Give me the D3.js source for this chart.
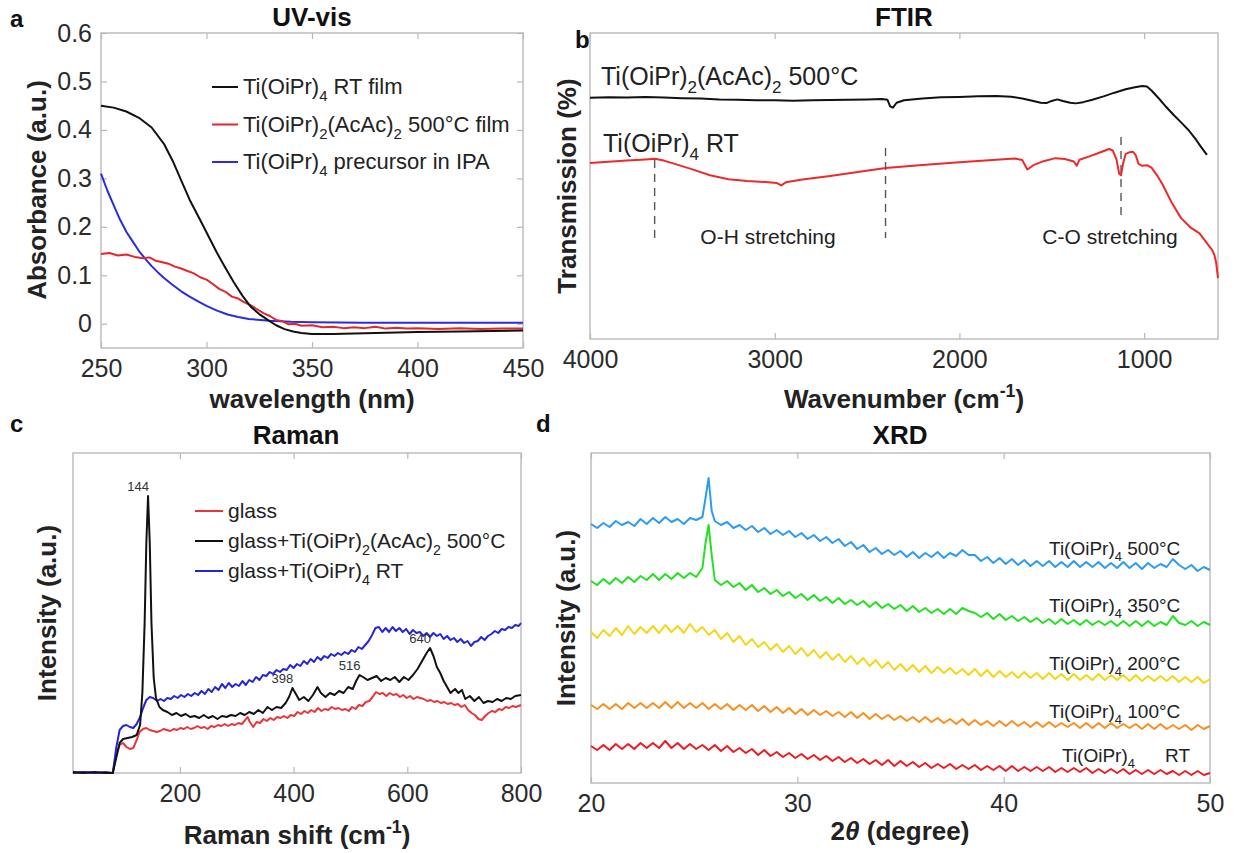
<!DOCTYPE html>
<html>
<head>
<meta charset="utf-8">
<script src="https://cdn.jsdelivr.net/npm/d3@7"></script>
<style>
  body { margin: 0; background: #fff; }
  svg { display: block; }
  text { font-family: "Liberation Sans", Arial, Helvetica, sans-serif; }
</style>
</head>
<body>
<svg id="fig" width="1240" height="853"></svg>
<script>
// ---------- (a) UV-vis absorbance, [wavelength nm, absorbance] ----------
const uvRTFilm = [[250,.450],[256,.446],[262,.438],[268,.425],[274,.405],[280,.370],[284,.336],[288,.296],[292,.256],[297,.214],[301,.180],[305,.146],[309,.115],[313,.085],[317,.058],[321,.035],[325,.020],[329,.008],[333,-.003],[337,-.011],[341,-.016],[345,-.019],[350,-.021],[355,-.021],[360,-.021],[370,-.020],[380,-.019],[390,-.018],[400,-.017],[420,-.016],[450,-.014]];
const uvAcAcFilm = [[250,.144],[254,.146],[258,.141],[262,.143],[266,.138],[270,.135],[273,.137],[276,.130],[279,.127],[282,.124],[285,.118],[288,.114],[291,.109],[294,.104],[297,.096],[300,.091],[303,.082],[306,.072],[309,.066],[312,.056],[315,.052],[318,.044],[321,.038],[324,.030],[327,.022],[330,.016],[333,.008],[336,.005],[339,-.001],[342,.000],[345,-.004],[350,-.003],[355,-.007],[360,-.006],[365,-.009],[370,-.007],[375,-.009],[380,-.006],[385,-.010],[390,-.008],[395,-.010],[400,-.009],[410,-.011],[420,-.009],[430,-.011],[440,-.010],[450,-.010]];
const uvPrecursorIPA = [[250,.310],[253,.275],[256,.245],[259,.215],[262,.190],[265,.170],[268,.150],[271,.134],[274,.119],[277,.106],[280,.094],[284,.080],[288,.067],[292,.056],[296,.046],[300,.037],[305,.027],[310,.019],[315,.014],[320,.010],[330,.006],[340,.004],[350,.003],[375,.002],[400,.002],[450,.002]];
const uvTicksX = [250,300,350,400,450];
const uvTicksY = [0,0.1,0.2,0.3,0.4,0.5,0.6];

// ---------- (b) FTIR transmission, [wavenumber cm-1, transmission a.u.] ----------
const ftirAcAc500 = [[4000,78.8],[3900,79.0],[3800,78.9],[3700,79.1],[3600,78.9],[3500,78.7],[3400,78.6],[3300,78.3],[3200,78.2],[3100,78.0],[3000,78.0],[2900,77.9],[2800,78.0],[2700,78.1],[2600,78.2],[2500,78.3],[2420,78.4],[2390,78.2],[2375,76.0],[2360,75.6],[2340,77.2],[2300,78.0],[2200,78.6],[2100,79.0],[2000,79.1],[1900,79.3],[1800,79.4],[1720,79.2],[1660,78.6],[1600,77.8],[1560,77.2],[1530,77.1],[1500,77.8],[1470,78.3],[1440,77.8],[1400,77.2],[1370,77.0],[1330,77.4],[1280,78.2],[1220,79.3],[1160,80.5],[1100,81.6],[1050,82.3],[1010,82.7],[985,82.5],[960,81.2],[920,78.6],[880,75.8],[840,73.2],[800,70.8],[760,68.3],[720,65.2],[690,62.6],[660,60.2]];
const ftirRT = [[4000,57.5],[3900,57.9],[3800,58.3],[3700,58.7],[3650,58.9],[3600,58.3],[3550,57.4],[3450,55.5],[3350,53.5],[3250,52.2],[3150,51.6],[3050,51.3],[2990,51.0],[2965,50.2],[2940,51.2],[2850,52.1],[2700,53.3],[2550,54.6],[2400,55.9],[2200,56.9],[2000,57.8],[1800,58.6],[1700,59.0],[1660,58.5],[1632,55.4],[1600,56.8],[1540,58.2],[1480,59.1],[1430,58.8],[1380,58.0],[1365,56.6],[1350,58.6],[1300,59.6],[1250,60.7],[1190,62.1],[1170,61.6],[1150,58.8],[1135,54.0],[1125,53.5],[1115,57.0],[1100,60.5],[1080,61.0],[1060,61.2],[1045,60.0],[1030,57.2],[1010,56.6],[985,56.8],[960,56.0],[930,53.5],[900,50.5],[850,44.5],[800,39.5],[750,36.5],[700,34.5],[650,30.5],[632,29.1],[620,27.5],[610,25.0],[600,19.9]];
const ftirTicksX = [4000,3000,2000,1000];
// dashed band markers: [wavenumber, top, bottom] in transmission units
const ftirMarkers = [[3650,58.5,32.4],[2400,62.4,33.0],[1125,66.0,39.5]];

// ---------- (c) Raman spectra, [shift cm-1, intensity a.u.] ----------
const ramanGlass = [[12,0],[30,1],[50,0],[70,0],[82,0],[88,18],[94,28],[100,30],[106,26],[112,24],[118,25],[124,33],[129,41],[135,44],[141,45],[147,43],[153,42],[159,41],[165,42],[171,44],[177,43],[183,42],[189,44],[195,43],[201,45],[207,44],[213,46],[219,44],[225,45],[231,47],[237,45],[243,46],[249,44],[255,47],[261,46],[267,48],[273,47],[279,49],[285,47],[291,49],[297,48],[303,50],[309,49],[315,53],[319,56],[323,51],[329,46],[335,51],[341,50],[347,54],[353,52],[359,55],[365,53],[371,56],[377,55],[383,57],[389,55],[395,58],[401,57],[407,61],[413,59],[419,62],[425,60],[431,63],[437,61],[443,65],[449,62],[455,64],[461,63],[467,66],[473,64],[479,65],[485,63],[491,64],[497,62],[503,66],[509,64],[515,68],[521,67],[527,71],[533,72],[539,76],[545,81],[551,79],[557,80],[563,77],[569,80],[575,78],[581,79],[587,76],[593,78],[599,75],[605,77],[611,74],[617,76],[623,75],[629,74],[635,72],[641,73],[647,71],[653,72],[659,70],[665,71],[671,69],[677,70],[683,68],[689,69],[695,66],[701,68],[707,63],[713,60],[719,58],[725,54],[731,53],[737,57],[743,60],[749,62],[755,61],[761,64],[767,63],[773,66],[779,65],[785,67],[791,66],[800,68]];
const ramanAcAc500 = [[12,1],[30,0],[50,1],[70,0],[82,0],[88,15],[94,30],[100,34],[108,35],[116,36],[124,38],[130,48],[134,80],[138,150],[141,230],[144,277],[147,230],[150,150],[154,95],[158,75],[164,66],[170,63],[178,61],[186,58],[194,60],[202,57],[210,59],[218,56],[226,57],[234,55],[242,58],[250,55],[258,57],[266,54],[274,57],[282,56],[290,58],[298,57],[306,60],[314,58],[322,61],[330,59],[338,63],[346,60],[354,66],[362,63],[370,66],[378,65],[386,70],[392,76],[398,85],[404,79],[410,73],[418,76],[426,72],[434,78],[442,86],[448,80],[456,76],[464,80],[472,78],[480,82],[488,80],[496,86],[504,84],[510,92],[516,98],[522,96],[530,93],[538,95],[546,97],[554,92],[562,95],[570,93],[578,96],[586,91],[594,96],[602,93],[610,98],[618,104],[626,112],[634,120],[640,125],[646,117],[652,106],[658,100],[664,92],[670,86],[676,80],[684,84],[690,80],[696,83],[702,74],[710,77],[718,72],[726,76],[734,70],[742,72],[750,71],[758,74],[766,72],[774,75],[782,74],[790,77],[800,78]];
const ramanRT = [[12,0],[30,1],[50,0],[70,1],[82,0],[88,25],[94,43],[100,47],[106,48],[112,46],[118,45],[124,49],[130,56],[136,66],[141,73],[147,76],[153,75],[160,72],[166,74],[172,72],[178,75],[184,74],[190,77],[196,75],[202,78],[208,76],[214,79],[220,77],[226,80],[232,78],[238,82],[244,79],[250,84],[256,81],[262,86],[268,83],[274,89],[280,85],[286,90],[292,86],[298,89],[304,87],[310,92],[316,88],[322,93],[328,91],[334,96],[340,93],[346,98],[352,97],[358,101],[364,99],[370,103],[376,101],[382,104],[388,103],[394,108],[400,105],[406,109],[412,107],[418,112],[424,109],[430,114],[436,111],[442,116],[448,113],[454,117],[460,115],[466,119],[472,117],[478,120],[484,118],[490,121],[496,119],[502,123],[508,121],[514,126],[520,124],[526,128],[532,132],[538,138],[544,145],[550,146],[556,141],[562,145],[568,141],[574,146],[580,142],[586,145],[592,141],[598,144],[604,139],[610,143],[616,140],[622,141],[628,137],[634,140],[640,136],[646,140],[652,137],[658,139],[664,134],[670,137],[676,133],[682,135],[688,131],[694,134],[700,130],[706,132],[712,127],[718,131],[724,132],[730,136],[736,133],[742,137],[748,139],[754,142],[760,140],[766,144],[772,143],[778,146],[784,145],[790,148],[796,147],[800,150]];
const ramanPeaks = [144, 398, 516, 640];
const ramanTicksX = [200,400,600,800];

// ---------- (d) XRD patterns on a shared 2θ grid (degree) ----------
const twoTheta = [20,20.3,20.6,20.9,21.2,21.5,21.8,22.1,22.4,22.7,23,23.3,23.6,23.9,24.2,24.5,24.8,25.1,25.4,25.7,26,26.3,26.6,26.9,27.2,27.5,27.8,28.1,28.4,28.7,29,29.3,29.6,29.9,30.2,30.5,30.8,31.1,31.4,31.7,32,32.3,32.6,32.9,33.2,33.5,33.8,34.1,34.4,34.7,35,35.3,35.6,35.9,36.2,36.5,36.8,37.1,37.4,37.7,38,38.3,38.6,38.9,39.2,39.5,39.8,40.1,40.4,40.7,41,41.3,41.6,41.9,42.2,42.5,42.8,43.1,43.4,43.7,44,44.3,44.6,44.9,45.2,45.5,45.8,46.1,46.4,46.7,47,47.3,47.6,47.9,48.2,48.5,48.8,49.1,49.4,49.7,50];
const xrd500 = [259,255,260,256,262,258,261,257,264,259,265,260,266,261,264,259,265,263,266,305,262,258,261,255,258,253,257,251,255,249,253,248,252,246,250,244,248,242,246,240,244,237,241,234,238,231,235,229,233,228,232,226,231,225,230,226,231,225,230,227,233,228,228,222,226,220,225,219,224,218,223,217,222,217,222,216,221,216,222,216,221,216,221,215,220,215,221,215,220,214,220,215,219,216,224,218,214,218,212,216,213];
const xrd500Peak = [[25.55,285],[25.85,272]];
const xrd350 = [202,198,204,199,205,200,206,201,207,203,209,203,209,204,210,205,210,206,215,258,203,198,202,196,200,193,198,191,195,189,193,187,191,185,189,183,188,182,186,180,185,179,183,178,182,176,181,175,179,174,178,172,177,171,175,170,174,169,174,169,175,172,170,166,170,164,169,163,167,162,166,161,165,160,164,159,164,159,163,158,163,158,162,158,162,157,162,157,162,157,162,157,161,158,167,160,158,162,157,161,158];
const xrd350Peak = [[25.55,240],[25.85,228]];
const xrd200 = [151,145,153,147,155,148,157,149,156,150,157,150,158,151,157,150,159,151,156,148,153,144,150,141,147,138,144,136,141,133,139,131,137,129,135,127,133,125,131,123,129,121,127,119,125,117,123,115,121,113,119,112,118,111,117,110,116,110,115,109,114,108,114,107,113,106,112,106,111,105,111,105,110,104,110,104,109,103,109,103,108,103,109,103,108,103,108,102,108,102,107,102,107,102,107,101,106,101,106,100,104];
const xrd100 = [78,74,79,74,79,74,80,75,80,75,80,75,81,75,81,75,80,75,80,74,79,74,79,73,78,73,78,72,77,71,76,70,75,69,74,68,73,68,72,67,71,66,71,65,70,64,69,64,68,63,67,62,66,61,66,61,65,60,64,59,64,58,63,58,62,57,62,57,62,57,61,56,61,56,61,56,60,56,60,55,60,55,60,55,60,55,59,55,59,54,59,54,59,54,58,54,58,53,58,54,57];
const xrdRT = [37,33,38,33,39,34,39,34,40,35,40,35,42,35,40,34,39,34,38,33,38,32,37,31,35,30,34,28,33,27,31,26,30,25,29,24,28,23,27,22,26,21,25,20,24,19,23,18,23,17,22,17,21,16,20,15,19,15,19,14,18,14,18,13,17,13,17,12,17,12,16,12,16,12,16,11,15,11,15,11,15,10,14,10,14,10,14,9,13,9,13,9,13,9,12,8,12,8,12,8,10];
const xrdTicksX = [20,30,40,50];

// ---------- drawing ----------
const svg = d3.select("#fig");
const FONT = '"Liberation Sans", Arial, Helvetica, sans-serif';
const BOX = "#b9b9b9", TICKTXT = "#2b2b2b";

// text with sub/superscript runs: parts are strings or [string, "sub"|"sup"|"it"]
function rich(t, parts, fs) {
  let cur = 0;
  parts.forEach(p => {
    const [s, mode] = typeof p === "string" ? [p, null] : p;
    let off = 0, size = fs;
    if (mode === "sub") { off = 0.33 * fs; size = fs * 0.68; }
    if (mode === "sup") { off = -0.42 * fs; size = fs * 0.68; }
    const sp = t.append("tspan").attr("dy", off - cur).attr("font-size", size).text(s);
    if (mode === "it") sp.attr("font-style", "italic");
    cur = off;
  });
  return t;
}

function styleAxis(s, fs) {
  s.attr("font-family", FONT).attr("font-size", fs);
  s.select(".domain").remove();
  s.selectAll(".tick line").attr("stroke", BOX).attr("stroke-width", 1.2);
  s.selectAll(".tick text").attr("fill", TICKTXT);
}

// box frame, bottom tick labels, mirrored inward ticks
function frame(x, y, xt, opts = {}) {
  const [x0, x1] = x.range(), [yb, yt] = y.range();
  const g = svg.append("g");
  g.append("g").attr("transform", `translate(0,${yb})`)
    .call(d3.axisBottom(x).tickValues(xt).tickSize(-6).tickPadding(11).tickFormat(d3.format("d")))
    .call(s => styleAxis(s, 25));
  g.append("g").attr("transform", `translate(0,${yt})`)
    .call(d3.axisTop(x).tickValues(xt).tickSize(-6).tickFormat(""))
    .call(s => styleAxis(s, 25));
  if (opts.yt) {
    g.append("g").attr("transform", `translate(${x0},0)`)
      .call(d3.axisLeft(y).tickValues(opts.yt).tickSize(-6).tickPadding(9)
        .tickFormat(d => d === 0 ? "0" : d3.format(".1f")(d)))
      .call(s => styleAxis(s, 25));
    g.append("g").attr("transform", `translate(${x1},0)`)
      .call(d3.axisRight(y).tickValues(opts.yt).tickSize(-6).tickFormat(""))
      .call(s => styleAxis(s, 25));
  }
  g.append("rect").attr("x", Math.min(x0, x1)).attr("y", yt)
    .attr("width", Math.abs(x1 - x0)).attr("height", yb - yt)
    .attr("fill", "none").attr("stroke", BOX).attr("stroke-width", 1.4);
  return g;
}

function curve(x, y, data, color, w = 2) {
  svg.append("path").datum(data)
    .attr("d", d3.line().x(d => x(d[0])).y(d => y(d[1])))
    .attr("fill", "none").attr("stroke", color).attr("stroke-width", w)
    .attr("stroke-linejoin", "round");
}

function title(txt, cx, by) {
  svg.append("text").attr("x", cx).attr("y", by).attr("text-anchor", "middle")
    .attr("font-size", 26).attr("font-weight", "bold").attr("fill", "#111").text(txt);
}
function letter(txt, x, y) {
  svg.append("text").attr("x", x).attr("y", y).attr("font-size", 24)
    .attr("font-weight", "bold").attr("fill", "#111").text(txt);
}
function xLabel(parts, cx, by) {
  const t = svg.append("text").attr("x", cx).attr("y", by).attr("text-anchor", "middle")
    .attr("font-weight", "bold").attr("fill", "#222");
  rich(t, parts, 26);
}
function yLabel(txt, bx, cy) {
  svg.append("text").attr("transform", `translate(${bx},${cy}) rotate(-90)`)
    .attr("text-anchor", "middle").attr("font-size", 26).attr("font-weight", "bold")
    .attr("fill", "#222").text(txt);
}

// ----- panel a: UV-vis -----
{
  const x = d3.scaleLinear().domain([250, 450]).range([101, 523]);
  const y = d3.scaleLinear().domain([-0.05, 0.6]).range([348, 33]);
  frame(x, y, uvTicksX, { yt: uvTicksY });
  curve(x, y, uvPrecursorIPA, "#2b2be0");
  curve(x, y, uvAcAcFilm, "#e2272c");
  curve(x, y, uvRTFilm, "#111");
  title("UV-vis", 312, 26);
  letter("a", 10, 27);
  xLabel(["wavelength (nm)"], 312, 408);
  yLabel("Absorbance (a.u.)", 46, 190);
  const legend = [
    { c: "#111", p: ["Ti(OiPr)", ["4", "sub"], " RT film"] },
    { c: "#e2272c", p: ["Ti(OiPr)", ["2", "sub"], "(AcAc)", ["2", "sub"], " 500°C film"] },
    { c: "#2b2be0", p: ["Ti(OiPr)", ["4", "sub"], " precursor in IPA"] }
  ];
  legend.forEach((l, i) => {
    const yy = 87 + i * 37.5;
    svg.append("line").attr("x1", 212).attr("x2", 238).attr("y1", yy).attr("y2", yy)
      .attr("stroke", l.c).attr("stroke-width", 2);
    rich(svg.append("text").attr("x", 243).attr("y", yy + 7).attr("fill", "#222"), l.p, 22);
  });
}

// ----- panel b: FTIR -----
{
  const x = d3.scaleLinear().domain([4000, 600]).range([590, 1218]);
  const y = d3.scaleLinear().domain([0, 100]).range([339, 33]);
  frame(x, y, ftirTicksX);
  ftirMarkers.forEach(m => {
    svg.append("line").attr("x1", x(m[0])).attr("x2", x(m[0]))
      .attr("y1", y(m[1])).attr("y2", y(m[2]))
      .attr("stroke", "#555").attr("stroke-width", 1.4).attr("stroke-dasharray", "8,6");
  });
  curve(x, y, ftirAcAc500, "#111");
  curve(x, y, ftirRT, "#ec2a2a");
  title("FTIR", 904, 26);
  letter("b", 575, 48);
  xLabel(["Wavenumber (cm", ["-1", "sup"], ")"], 904, 408);
  yLabel("Transmission (%)", 576, 186);
  rich(svg.append("text").attr("x", 601).attr("y", 85).attr("fill", "#222"),
    ["Ti(OiPr)", ["2", "sub"], "(AcAc)", ["2", "sub"], " 500°C"], 25);
  rich(svg.append("text").attr("x", 603).attr("y", 152).attr("fill", "#222"),
    ["Ti(OiPr)", ["4", "sub"], " RT"], 25);
  svg.append("text").attr("x", 768).attr("y", 244).attr("text-anchor", "middle")
    .attr("font-size", 21).attr("fill", "#222").text("O-H stretching");
  svg.append("text").attr("x", 1110).attr("y", 244).attr("text-anchor", "middle")
    .attr("font-size", 21).attr("fill", "#222").text("C-O stretching");
}

// ----- panel c: Raman -----
{
  const x = d3.scaleLinear().domain([12, 800]).range([73, 521]);
  const y = d3.scaleLinear().domain([0, 320]).range([773, 453]);
  frame(x, y, ramanTicksX);
  curve(x, y, ramanGlass, "#e8353a");
  curve(x, y, ramanRT, "#2525d8");
  curve(x, y, ramanAcAc500, "#111");
  ramanPeaks.forEach(p => {
    const pt = ramanAcAc500.find(d => d[0] === p);
    svg.append("text").attr("x", x(p) - 10).attr("y", y(pt[1]) - 5)
      .attr("text-anchor", "middle").attr("font-size", 13).attr("fill", "#333").text(p);
  });
  title("Raman", 296, 444);
  letter("c", 10, 432);
  xLabel(["Raman shift (cm", ["-1", "sup"], ")"], 297, 844);
  yLabel("Intensity (a.u.)", 56, 613);
  const legend = [
    { c: "#e8353a", p: ["glass"] },
    { c: "#111", p: ["glass+Ti(OiPr)", ["2", "sub"], "(AcAc)", ["2", "sub"], " 500°C"] },
    { c: "#2525d8", p: ["glass+Ti(OiPr)", ["4", "sub"], " RT"] }
  ];
  legend.forEach((l, i) => {
    const yy = 511 + i * 30;
    svg.append("line").attr("x1", 195).attr("x2", 223).attr("y1", yy).attr("y2", yy)
      .attr("stroke", l.c).attr("stroke-width", 2);
    rich(svg.append("text").attr("x", 228).attr("y", yy + 7).attr("fill", "#222"), l.p, 21);
  });
}

// ----- panel d: XRD -----
{
  const x = d3.scaleLinear().domain([20, 50]).range([591, 1210]);
  const y = d3.scaleLinear().domain([0, 330]).range([783, 453]);
  frame(x, y, xrdTicksX);
  const pairs = (vals, extra = []) =>
    d3.sort(twoTheta.map((t, i) => [t, vals[i]]).concat(extra), d => d[0]);
  const series = [
    { v: pairs(xrdRT), c: "#ec1c24", lab: "RT", ly: 762 },
    { v: pairs(xrd100), c: "#f7901e", lab: "100°C", ly: 718 },
    { v: pairs(xrd200), c: "#f6d515", lab: "200°C", ly: 670 },
    { v: pairs(xrd350, xrd350Peak), c: "#22e022", lab: "350°C", ly: 612 },
    { v: pairs(xrd500, xrd500Peak), c: "#2d9cf0", lab: "500°C", ly: 555 }
  ];
  series.forEach(s => curve(x, y, s.v, s.c, 2));
  series.forEach(s => {
    if (s.lab === "RT") {
      const t = svg.append("text").attr("x", 1062).attr("y", s.ly).attr("fill", "#222");
      rich(t, ["Ti(OiPr)", ["4", "sub"]], 19);
      t.append("tspan").attr("x", 1165).attr("dy", -0.33 * 19).attr("font-size", 19).text("RT");
    } else {
      rich(svg.append("text").attr("x", 1049).attr("y", s.ly).attr("fill", "#222"),
        ["Ti(OiPr)", ["4", "sub"], " " + s.lab], 19);
    }
  });
  title("XRD", 900, 444);
  letter("d", 536, 432);
  const t = svg.append("text").attr("x", 900).attr("y", 840).attr("text-anchor", "middle")
    .attr("font-weight", "bold").attr("fill", "#222");
  rich(t, ["2", ["θ", "it"], " (degree)"], 26);
  yLabel("Intensity (a.u.)", 575, 618);
}
</script>
</body>
</html>
